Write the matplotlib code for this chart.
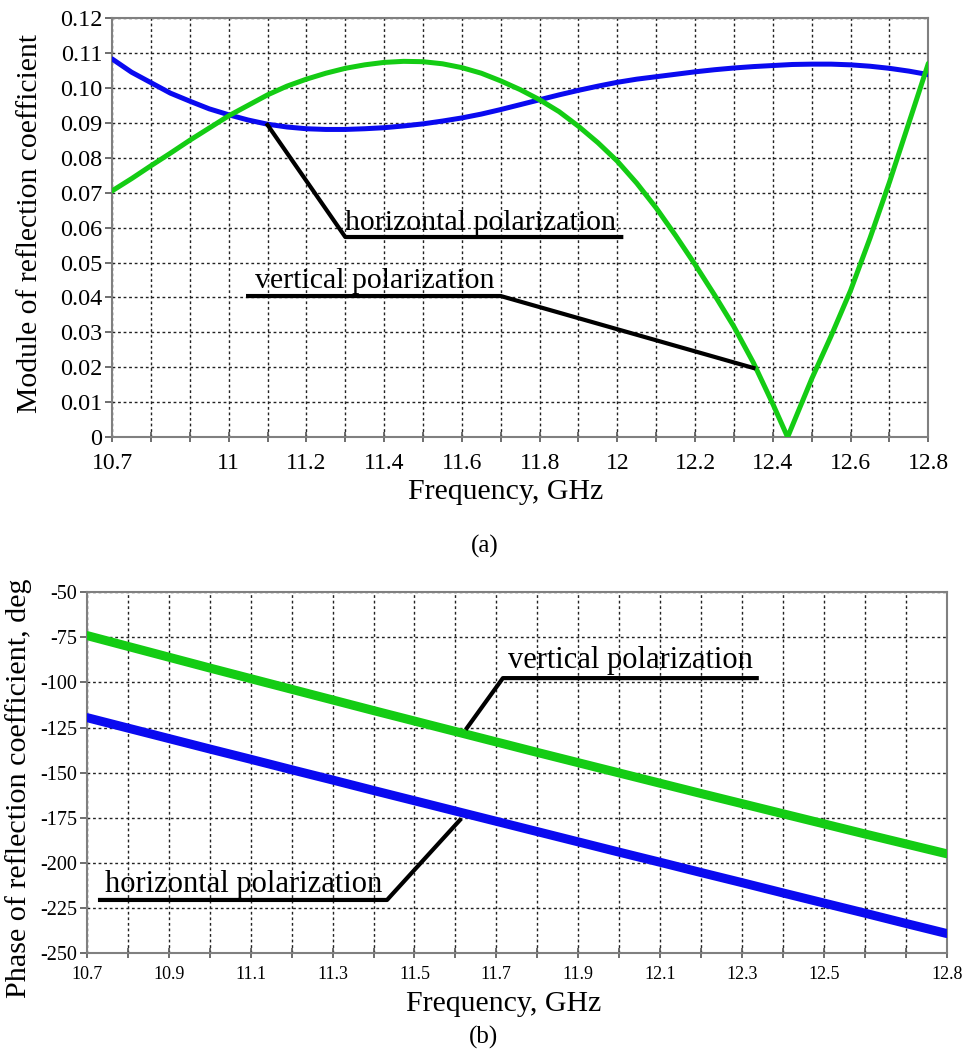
import numpy as np
import matplotlib
matplotlib.use("Agg")
import matplotlib.pyplot as plt

plt.rcParams['font.family'] = ['Liberation Serif', 'DejaVu Serif']

# (a) module of reflection coefficient
f_mod = [10.7, 10.75, 10.8, 10.85, 10.9, 10.95, 11.0, 11.05, 11.1, 11.15, 11.2,
         11.25, 11.3, 11.35, 11.4, 11.45, 11.5, 11.55, 11.6, 11.65, 11.7, 11.75,
         11.8, 11.85, 11.9, 11.95, 12.0, 12.05, 12.1, 12.15, 12.2, 12.25, 12.3,
         12.35, 12.4, 12.45, 12.5, 12.55, 12.6, 12.65, 12.7, 12.75, 12.8]
mod_horiz = [0.1083, 0.1045, 0.1015, 0.0985, 0.0962, 0.0940, 0.0923, 0.0908,
             0.0896, 0.0888, 0.0883, 0.0881, 0.0881, 0.0883, 0.0886, 0.0891,
             0.0897, 0.0905, 0.0914, 0.0925, 0.0938, 0.0952, 0.0966, 0.0980,
             0.0993, 0.1005, 0.1016, 0.1025, 0.1032, 0.1039, 0.1046, 0.1052,
             0.1057, 0.1061, 0.1064, 0.1067, 0.1068, 0.1068, 0.1066, 0.1062,
             0.1056, 0.1048, 0.1038]
f_mod_v = [10.7, 10.75, 10.8, 10.85, 10.9, 10.95, 11.0, 11.05, 11.1, 11.15, 11.2,
           11.25, 11.3, 11.35, 11.4, 11.45, 11.5, 11.55, 11.6, 11.65, 11.7, 11.75,
           11.8, 11.85, 11.9, 11.95, 12.0, 12.05, 12.1, 12.15, 12.2, 12.25, 12.3,
           12.35, 12.4, 12.438, 12.5, 12.55, 12.6, 12.65, 12.7, 12.75, 12.8]
mod_vert = [0.0705, 0.0740, 0.0777, 0.0813, 0.0850, 0.0885, 0.0920, 0.0950,
            0.0980, 0.1005, 0.1025, 0.1042, 0.1056, 0.1066, 0.1073, 0.1076,
            0.1075, 0.1069, 0.1058, 0.1042, 0.1020, 0.0995, 0.0966, 0.0932,
            0.0890, 0.0843, 0.0790, 0.0727, 0.0656, 0.0577, 0.0494, 0.0407,
            0.0316, 0.0213, 0.0095, 0.0, 0.0167, 0.0290, 0.0420, 0.0570,
            0.0730, 0.0900, 0.1070]

# (b) phase of reflection coefficient
f_ph = [10.7, 10.8, 10.9, 11.0, 11.1, 11.2, 11.3, 11.4, 11.5, 11.6, 11.7,
        11.8, 11.9, 12.0, 12.1, 12.2, 12.3, 12.4, 12.5, 12.6, 12.7, 12.8]
ph_vert = [-74.0, -80.0, -86.0, -92.0, -97.9, -103.8, -109.7, -115.6, -121.4,
           -127.2, -133.0, -138.8, -144.5, -150.2, -155.9, -161.6, -167.2,
           -172.8, -178.4, -184.0, -189.5, -195.0]
ph_horiz = [-119.5, -125.3, -131.1, -136.9, -142.6, -148.4, -154.1, -159.9,
            -165.6, -171.3, -177.0, -182.7, -188.4, -194.1, -199.7, -205.4,
            -211.0, -216.7, -222.3, -227.9, -233.6, -239.2]

xt_a = ['10.7', '', '', '11', '', '11.2', '', '11.4', '', '11.6', '', '11.8', '',
        '12', '', '12.2', '', '12.4', '', '12.6', '', '12.8']
yt_a = ['0', '0.01', '0.02', '0.03', '0.04', '0.05', '0.06', '0.07', '0.08',
        '0.09', '0.10', '0.11', '0.12']
xt_b = ['10.7', '', '10.9', '', '11.1', '', '11.3', '', '11.5', '', '11.7', '',
        '11.9', '', '12.1', '', '12.3', '', '12.5', '', '', '12.8']
yt_b = ['-250', '-225', '-200', '-175', '-150', '-125', '-100', '-75', '-50']

# leader lines for the labels
lead_a_h = ([11.10, 11.30, 12.01], [0.0894, 0.0573, 0.0573])
lead_a_v = ([11.05, 11.70, 12.35], [0.0404, 0.0404, 0.0198])
lead_b_v = ([11.628, 11.716, 12.336], [-125.3, -97.6, -97.6])
lead_b_h = ([10.732, 11.433, 11.611], [-220.6, -220.6, -176.3])

blue = '#0a0af0'
green = '#14cc14'
xticks = np.round(np.arange(10.7, 12.81, 0.1), 2)

fig = plt.figure(figsize=(9.66, 10.61), dpi=100)
ax1 = fig.add_axes([0.116, 0.588, 0.845, 0.395])
ax2 = fig.add_axes([0.090, 0.1018, 0.890, 0.340])


def style(ax, xfs, yfs, xpad):
    ax.grid(True, color='#222222', linestyle=(0, (2, 2)), linewidth=1.0)
    ax.set_axisbelow(True)
    for s in ax.spines.values():
        s.set_color('#808080')
        s.set_linewidth(1.5)
    ax.tick_params(axis='x', direction='inout', length=7, width=1.2,
                   color='#555555', labelsize=xfs, pad=xpad)
    ax.tick_params(axis='y', direction='out', length=5, width=1.2,
                   color='#555555', labelsize=yfs, pad=2)


# top chart
ax1.plot(f_mod, mod_horiz, color=blue, lw=3.6, solid_capstyle='round', zorder=3)
ax1.plot(f_mod_v, mod_vert, color=green, lw=3.6, solid_capstyle='round', zorder=3)
ax1.plot(*lead_a_h, color='black', lw=3.0, zorder=4)
ax1.plot(*lead_a_v, color='black', lw=3.0, zorder=4)
ax1.text(11.30, 0.0593, 'horizontal polarization', fontsize=21.5, va='baseline')
ax1.text(11.068, 0.0427, 'vertical polarization', fontsize=21.5, va='baseline')
ax1.set_xlim(10.7, 12.8)
ax1.set_ylim(0, 0.12)
ax1.set_xticks(xticks)
ax1.set_xticklabels(xt_a)
ax1.set_yticks(np.round(np.arange(0, 0.1201, 0.01), 2))
ax1.set_yticklabels(yt_a)
style(ax1, 17, 17.5, 8)

# bottom chart
ax2.plot(f_ph, ph_vert, color=green, lw=6.5, solid_capstyle='round', zorder=3)
ax2.plot(f_ph, ph_horiz, color=blue, lw=6.5, solid_capstyle='round', zorder=3)
ax2.plot(*lead_b_v, color='black', lw=3.0, zorder=4)
ax2.plot(*lead_b_h, color='black', lw=3.0, zorder=4)
ax2.text(11.728, -92.1, 'vertical polarization', fontsize=22, va='baseline')
ax2.text(10.744, -216.2, 'horizontal polarization', fontsize=22, va='baseline')
ax2.set_xlim(10.7, 12.8)
ax2.set_ylim(-250, -50)
ax2.set_xticks(xticks)
ax2.set_xticklabels(xt_b)
ax2.set_yticks(np.arange(-250, -49, 25))
ax2.set_yticklabels(yt_b)
style(ax2, 13, 14.5, 6)

fig.text(0.031, 0.789, 'Module of reflection coefficient', rotation=90,
         fontsize=21.3, ha='center', va='center')
fig.text(0.523, 0.536, 'Frequency, GHz', fontsize=21.5, ha='center', va='center')
fig.text(0.502, 0.485, '(a)', fontsize=18, ha='center', va='center')
fig.text(0.019, 0.257, 'Phase of reflection coefficient, deg', rotation=90,
         fontsize=21.7, ha='center', va='center')
fig.text(0.521, 0.054, 'Frequency, GHz', fontsize=21.5, ha='center', va='center')
fig.text(0.501, 0.0226, '(b)', fontsize=18, ha='center', va='center')

fig.savefig('out.png', dpi=100)
